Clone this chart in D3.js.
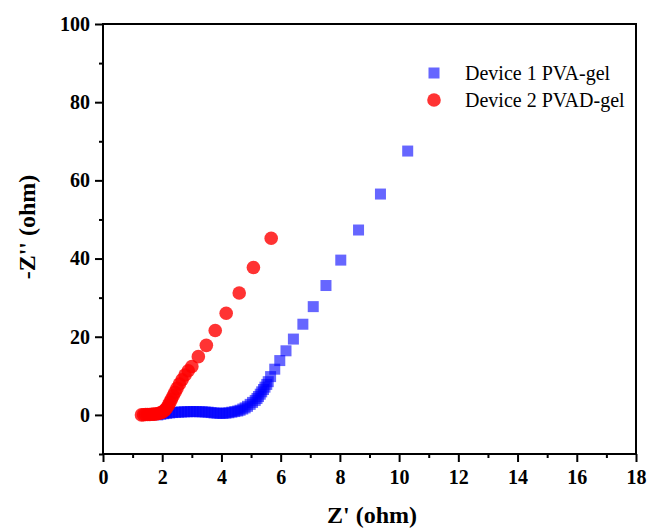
<!DOCTYPE html>
<html><head><meta charset="utf-8">
<script src="https://cdn.jsdelivr.net/npm/d3@7"></script>
<style>body{margin:0;background:#fff}</style>
</head><body>
<svg id="c" width="651" height="531"></svg>
<script>
const xTicks = [0,2,4,6,8,10,12,14,16,18];
const yTicks = [0,20,40,60,80,100];
const seriesNames = ["Device 1 PVA-gel","Device 2 PVAD-gel"];
const pvaX = [1.85,1.95,2.05,2.15,2.25,2.35,2.45,2.55,2.65,2.75,2.85,2.95,3.05,3.15,3.25,3.35,3.45,3.55,3.65,3.75,3.85,3.95,4.05,4.15,4.25,4.35,4.45,4.55,4.63,4.72,4.8,4.88,4.97,5.05,5.14,5.2,5.25,5.31,5.36,5.42,5.47,5.53,5.58,5.66,5.8,5.97,6.18,6.43,6.75,7.1,7.53,8.03,8.63,9.37,10.29];
const pvaY = [0.0,0.15,0.3,0.4,0.5,0.6,0.65,0.7,0.75,0.8,0.8,0.85,0.85,0.85,0.8,0.8,0.75,0.7,0.6,0.5,0.45,0.4,0.4,0.45,0.55,0.7,0.85,1.0,1.2,1.5,1.8,2.2,2.7,3.2,3.7,4.2,4.7,5.3,5.9,6.5,7.1,7.8,8.5,9.8,11.7,13.9,16.4,19.4,23.2,27.7,33.1,39.6,47.3,56.5,67.5];
const pvadX = [1.3,1.37,1.44,1.51,1.58,1.65,1.72,1.79,1.86,1.93,2.0,2.06,2.11,2.16,2.21,2.26,2.31,2.37,2.43,2.5,2.58,2.67,2.77,2.88,3.0,3.22,3.49,3.79,4.16,4.6,5.08,5.68];
const pvadY = [0.0,0.05,0.1,0.1,0.1,0.15,0.2,0.25,0.35,0.5,0.7,1.0,1.4,1.9,2.5,3.2,4.0,4.9,5.8,6.8,7.9,9.0,10.2,11.3,12.4,14.9,17.8,21.6,26.0,31.2,37.7,45.2];

const svg = d3.select("#c");
const L=103, R=636, T=24, B=454;
const x = d3.scaleLinear().domain([0,18]).range([L,R]);
const y = d3.scaleLinear().domain([-10,100]).range([B,T]);
const font = "'Liberation Serif','Times New Roman',serif";

// frame
svg.append("rect").attr("x",L).attr("y",T).attr("width",R-L).attr("height",B-T)
  .attr("fill","none").attr("stroke","#000").attr("stroke-width",2);

// x axis
const xAxis = d3.axisBottom(x).tickValues(xTicks).tickSize(8).tickPadding(8).tickFormat(d3.format("d"));
const gx = svg.append("g").attr("transform",`translate(0,${B})`).call(xAxis);
gx.select(".domain").remove();
gx.selectAll("line").attr("stroke-width",2);
gx.selectAll("text").attr("font-family",font).attr("font-size",20).attr("font-weight","bold").attr("fill","#000");
const gxm = svg.append("g").attr("transform",`translate(0,${B})`)
  .call(d3.axisBottom(x).tickValues(d3.range(1,18,2)).tickSize(4).tickFormat(""));
gxm.select(".domain").remove();
gxm.selectAll("line").attr("stroke-width",2);

// y axis
const yAxis = d3.axisLeft(y).tickValues(yTicks).tickSize(8).tickPadding(5).tickFormat(d3.format("d"));
const gy = svg.append("g").attr("transform",`translate(${L},0)`).call(yAxis);
gy.select(".domain").remove();
gy.selectAll("line").attr("stroke-width",2);
gy.selectAll("text").attr("font-family",font).attr("font-size",20).attr("font-weight","bold").attr("fill","#000");
const gym = svg.append("g").attr("transform",`translate(${L},0)`)
  .call(d3.axisLeft(y).tickValues([-10,10,30,50,70,90]).tickSize(4).tickFormat(""));
gym.select(".domain").remove();
gym.selectAll("line").attr("stroke-width",2);

// titles
svg.append("text").attr("x",372).attr("y",523).attr("text-anchor","middle")
  .attr("font-family",font).attr("font-size",24).attr("font-weight","bold").text("Z' (ohm)");
svg.append("text").attr("transform",`translate(35,227) rotate(-90)`).attr("text-anchor","middle")
  .attr("font-family",font).attr("font-size",24).attr("font-weight","bold").text("-Z'' (ohm)");

// data
const pva = pvaX.map((v,i)=>({x:v,y:pvaY[i]}));
const pvad = pvadX.map((v,i)=>({x:v,y:pvadY[i]}));
const sq = 11;
svg.append("g").selectAll("rect").data(pva).join("rect")
  .attr("x",d=>x(d.x)-sq/2).attr("y",d=>y(d.y)-sq/2).attr("width",sq).attr("height",sq)
  .attr("fill","#0000ff").attr("fill-opacity",0.6);
svg.append("g").selectAll("circle").data(pvad).join("circle")
  .attr("cx",d=>x(d.x)).attr("cy",d=>y(d.y)).attr("r",6.8)
  .attr("fill","#ff0000").attr("fill-opacity",0.8);

// legend
const lg = svg.append("g");
lg.append("rect").attr("x",434-5.5).attr("y",73-5.5).attr("width",11).attr("height",11)
  .attr("fill","#0000ff").attr("fill-opacity",0.6);
lg.append("circle").attr("cx",434).attr("cy",100).attr("r",6.8).attr("fill","#ff0000").attr("fill-opacity",0.8);
lg.selectAll("text").data(seriesNames).join("text")
  .attr("x",465).attr("y",(d,i)=>80+i*27)
  .attr("font-family",font).attr("font-size",20).attr("fill","#000").text(d=>d);
</script>
</body></html>
